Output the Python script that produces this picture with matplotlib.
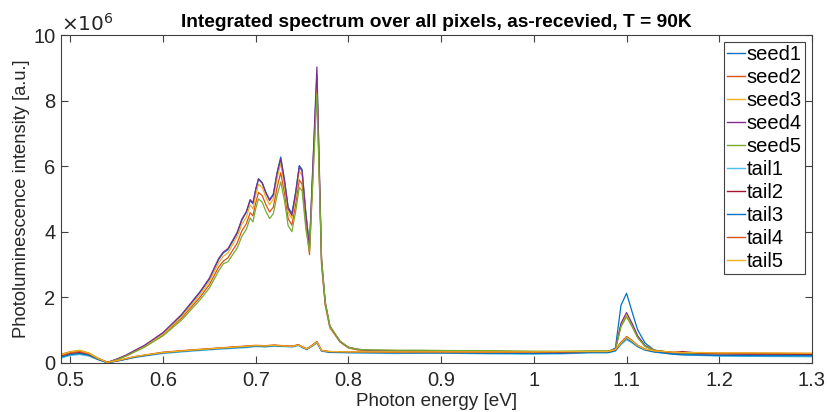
import numpy as np
import matplotlib
matplotlib.use('Agg')
import matplotlib.pyplot as plt

plt.rcParams['font.family'] = ['Liberation Sans', 'DejaVu Sans']

# photon energy grid for the seed spectra [eV]
e_seed = [0.49, 0.50, 0.51, 0.52, 0.53, 0.54, 0.55, 0.56,
          0.58, 0.60, 0.62, 0.64, 0.65, 0.66, 0.665, 0.67,
          0.68, 0.685, 0.69, 0.694, 0.697, 0.700, 0.703, 0.707,
          0.711, 0.715, 0.719, 0.723, 0.727, 0.731, 0.735, 0.739,
          0.743, 0.747, 0.750, 0.754, 0.758, 0.766, 0.771, 0.775,
          0.780, 0.786, 0.791, 0.80, 0.81, 0.82, 0.85, 0.88,
          0.91, 0.94, 0.97, 1.00, 1.03, 1.06, 1.08, 1.088,
          1.094, 1.10, 1.106, 1.112, 1.12, 1.13, 1.15, 1.17,
          1.20, 1.23, 1.26, 1.30]

# intensities in units of 1e6 a.u.
seed1 = [0.22, 0.30, 0.34, 0.27, 0.13, 0.01, 0.10, 0.22,
         0.52, 0.90, 1.45, 2.15, 2.55, 3.15, 3.35, 3.45,
         3.95, 4.35, 4.60, 4.95, 4.85, 5.30, 5.62, 5.50,
         5.20, 4.98, 5.15, 5.80, 6.28, 5.60, 4.75, 4.55,
         5.20, 6.02, 5.90, 4.60, 3.55, 8.80, 3.10, 1.80,
         1.10, 0.85, 0.64, 0.46, 0.40, 0.37, 0.36, 0.35,
         0.35, 0.34, 0.32, 0.29, 0.28, 0.32, 0.33, 0.45,
         1.75, 2.12, 1.55, 1.00, 0.60, 0.38, 0.28, 0.25,
         0.22, 0.22, 0.21, 0.21]
seed2 = [0.25, 0.33, 0.36, 0.29, 0.13, 0.01, 0.10, 0.21,
         0.49, 0.85, 1.36, 2.00, 2.38, 2.92, 3.10, 3.20,
         3.65, 4.02, 4.25, 4.58, 4.48, 4.88, 5.20, 5.10,
         4.82, 4.60, 4.75, 5.35, 5.80, 5.18, 4.40, 4.20,
         4.82, 5.58, 5.45, 4.25, 3.30, 8.45, 3.00, 1.75,
         1.06, 0.83, 0.63, 0.45, 0.39, 0.37, 0.36, 0.36,
         0.35, 0.35, 0.34, 0.33, 0.33, 0.34, 0.34, 0.41,
         1.12, 1.42, 1.12, 0.78, 0.50, 0.37, 0.30, 0.28,
         0.27, 0.27, 0.26, 0.26]
seed3 = [0.26, 0.34, 0.38, 0.30, 0.14, 0.01, 0.10, 0.21,
         0.50, 0.87, 1.40, 2.08, 2.48, 3.05, 3.25, 3.35,
         3.85, 4.22, 4.45, 4.82, 4.70, 5.12, 5.45, 5.35,
         5.05, 4.82, 5.00, 5.62, 6.08, 5.42, 4.60, 4.40,
         5.05, 5.85, 5.72, 4.45, 3.45, 8.60, 3.05, 1.78,
         1.08, 0.84, 0.64, 0.46, 0.40, 0.38, 0.37, 0.37,
         0.36, 0.36, 0.35, 0.34, 0.34, 0.35, 0.35, 0.42,
         1.15, 1.45, 1.15, 0.80, 0.52, 0.38, 0.31, 0.29,
         0.28, 0.28, 0.27, 0.27]
seed4 = [0.24, 0.32, 0.35, 0.28, 0.12, 0.00, 0.11, 0.23,
         0.53, 0.92, 1.47, 2.17, 2.58, 3.18, 3.38, 3.48,
         3.98, 4.38, 4.62, 4.98, 4.88, 5.28, 5.60, 5.48,
         5.18, 4.95, 5.12, 5.78, 6.22, 5.55, 4.70, 4.50,
         5.15, 5.98, 5.85, 4.55, 3.50, 9.03, 3.15, 1.85,
         1.12, 0.86, 0.65, 0.47, 0.41, 0.38, 0.37, 0.36,
         0.36, 0.35, 0.34, 0.33, 0.33, 0.34, 0.34, 0.42,
         1.20, 1.53, 1.20, 0.82, 0.52, 0.38, 0.30, 0.28,
         0.27, 0.26, 0.26, 0.25]
seed5 = [0.18, 0.24, 0.27, 0.22, 0.10, 0.00, 0.09, 0.20,
         0.47, 0.82, 1.30, 1.92, 2.28, 2.80, 3.02, 3.08,
         3.50, 3.85, 4.08, 4.42, 4.30, 4.70, 5.00, 4.90,
         4.62, 4.40, 4.55, 5.10, 5.52, 4.95, 4.18, 4.00,
         4.60, 5.35, 5.25, 4.10, 3.40, 8.20, 3.20, 1.85,
         1.12, 0.87, 0.66, 0.47, 0.41, 0.39, 0.38, 0.38,
         0.37, 0.37, 0.36, 0.35, 0.35, 0.36, 0.36, 0.40,
         1.10, 1.40, 1.10, 0.76, 0.50, 0.38, 0.31, 0.29,
         0.28, 0.28, 0.27, 0.27]

# energy grid for the tail spectra [eV]
e_tail = [0.49, 0.50, 0.51, 0.52, 0.53, 0.54, 0.55,
          0.57, 0.60, 0.63, 0.66, 0.69,
          0.70, 0.71, 0.72, 0.73, 0.74,
          0.746, 0.750, 0.755, 0.761, 0.766,
          0.771, 0.78, 0.80, 0.85, 0.90,
          0.95, 1.00, 1.03, 1.06, 1.08,
          1.088, 1.094, 1.10, 1.106, 1.112,
          1.12, 1.13, 1.15, 1.16, 1.18,
          1.20, 1.25, 1.30]

tail1 = [0.14, 0.22, 0.25, 0.20, 0.09, 0.00, 0.04,
         0.16, 0.28, 0.35, 0.41, 0.46,
         0.49, 0.48, 0.50, 0.49, 0.48,
         0.52, 0.46, 0.40, 0.50, 0.60,
         0.35, 0.31, 0.30, 0.28, 0.29,
         0.27, 0.26, 0.27, 0.30, 0.30,
         0.35, 0.55, 0.70, 0.60, 0.48,
         0.38, 0.32, 0.26, 0.24, 0.22,
         0.20, 0.19, 0.18]
tail2 = [0.20, 0.28, 0.31, 0.25, 0.11, 0.01, 0.05,
         0.18, 0.31, 0.38, 0.44, 0.50,
         0.52, 0.51, 0.53, 0.50, 0.50,
         0.55, 0.48, 0.42, 0.53, 0.64,
         0.37, 0.33, 0.32, 0.31, 0.31,
         0.30, 0.31, 0.30, 0.32, 0.32,
         0.38, 0.62, 0.78, 0.66, 0.52,
         0.40, 0.34, 0.31, 0.34, 0.29,
         0.28, 0.27, 0.26]
tail3 = [0.17, 0.25, 0.28, 0.23, 0.10, 0.00, 0.05,
         0.17, 0.30, 0.37, 0.43, 0.48,
         0.51, 0.49, 0.52, 0.50, 0.49,
         0.54, 0.47, 0.41, 0.51, 0.62,
         0.36, 0.32, 0.31, 0.30, 0.30,
         0.29, 0.28, 0.29, 0.31, 0.31,
         0.37, 0.58, 0.74, 0.63, 0.50,
         0.39, 0.33, 0.26, 0.24, 0.23,
         0.22, 0.21, 0.21]
tail4 = [0.22, 0.30, 0.34, 0.27, 0.12, 0.01, 0.06,
         0.19, 0.32, 0.39, 0.45, 0.51,
         0.53, 0.52, 0.54, 0.52, 0.51,
         0.55, 0.49, 0.43, 0.53, 0.65,
         0.38, 0.34, 0.33, 0.32, 0.33,
         0.32, 0.32, 0.33, 0.34, 0.34,
         0.40, 0.62, 0.80, 0.68, 0.53,
         0.42, 0.36, 0.32, 0.31, 0.30,
         0.29, 0.29, 0.28]
tail5 = [0.24, 0.33, 0.37, 0.29, 0.13, 0.01, 0.06,
         0.19, 0.31, 0.38, 0.44, 0.50,
         0.52, 0.51, 0.53, 0.51, 0.50,
         0.54, 0.48, 0.42, 0.52, 0.63,
         0.37, 0.34, 0.33, 0.33, 0.33,
         0.33, 0.33, 0.34, 0.34, 0.34,
         0.40, 0.60, 0.77, 0.66, 0.52,
         0.41, 0.36, 0.32, 0.31, 0.31,
         0.30, 0.30, 0.29]

names = ['seed1', 'seed2', 'seed3', 'seed4', 'seed5',
         'tail1', 'tail2', 'tail3', 'tail4', 'tail5']
curves = [seed1, seed2, seed3, seed4, seed5, tail1, tail2, tail3, tail4, tail5]
# matlab default line colours
colors = ['#0072BD', '#D95319', '#EDB120', '#7E2F8E', '#77AC30',
          '#4DBEEE', '#A2142F', '#0072BD', '#D95319', '#EDB120']

fig = plt.figure(figsize=(8.27, 4.12), dpi=100)
ax = fig.add_axes([0.0738, 0.1197, 0.908, 0.795])

for i in range(10):
    x = e_seed if i < 5 else e_tail
    ax.plot(x, curves[i], color=colors[i], lw=0.9, label=names[i])

ax.set_xlim(0.49, 1.3)
ax.set_ylim(0, 10)
ax.set_xticks(np.arange(0.5, 1.31, 0.1))
ax.set_xticklabels(['0.5', '0.6', '0.7', '0.8', '0.9', '1', '1.1', '1.2', '1.3'])
ax.set_yticks([0, 2, 4, 6, 8, 10])

txtc = '#262626'
for s in ax.spines.values():
    s.set_color('#404040')
    s.set_linewidth(0.8)
ax.tick_params(direction='in', length=5, width=0.8, color='#404040',
               top=True, right=True, labelsize=14.5, labelcolor=txtc)
ax.tick_params(axis='x', pad=6)
ax.tick_params(axis='y', pad=4)

ax.text(0.0, 1.0, r'$\times 10^{6}$', transform=ax.transAxes,
        fontsize=14.5, color=txtc, ha='left', va='bottom')
ax.set_title('Integrated spectrum over all pixels, as-recevied, T = 90K',
             fontsize=13.8, fontweight='bold', color='black', pad=6)
ax.set_xlabel('Photon energy [eV]', fontsize=13.6, color=txtc, labelpad=2)
ax.set_ylabel('Photoluminescence intensity [a.u.]', fontsize=13.2, color=txtc, labelpad=2)

leg = ax.legend(loc='upper right', fontsize=14.5, handlelength=0.9, handletextpad=0.1,
                labelspacing=0.2, borderaxespad=0.35, borderpad=0.15,
                fancybox=False, framealpha=1, edgecolor='#404040')
leg.get_frame().set_linewidth(0.8)
for h in leg.get_lines():
    h.set_linewidth(1.0)

fig.savefig('out.png', dpi=100)
